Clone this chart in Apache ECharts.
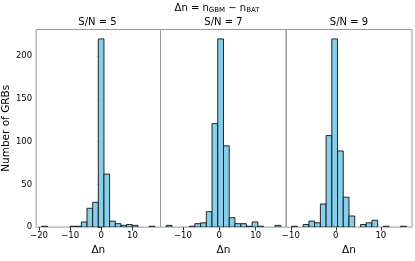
<!DOCTYPE html>
<html><head><meta charset="utf-8">
<script src="https://cdn.jsdelivr.net/npm/echarts@6/dist/echarts.min.js"></script>
<style>html,body{margin:0;padding:0;background:#fff}#c{width:415px;height:261px}</style>
</head><body><div id="c"></div>
<script>
// Histogram bins (start, width) and counts per panel
const panelTitles = ['S/N = 5', 'S/N = 7', 'S/N = 9'];
const binStart1 = -19.1, binWidth1 = 1.815;
const counts1 = [1,0,0,0,0,1,1,6,22,29,220,62,7,4,2,3,2,0,0,1];
const binStart2 = -14.6, binWidth2 = 1.575;
const counts2 = [2,0,0,0,1,4,5,18,121,220,95,11,4,4,1,6,1,0,0,2];
const binStart3 = -9.8, binWidth3 = 1.273;
const counts3 = [1,0,3,7,5,27,107,220,89,35,13,0,3,5,8,0,1,0,0,1];
const xTicks1 = [-20, -10, 0, 10];
const xTicks2 = [-10, 0, 10];
const xTicks3 = [-10, 0, 10];
const yTicks = [0, 50, 100, 150, 200];

const panels = [
  {start: binStart1, width: binWidth1, counts: counts1, ticks: xTicks1},
  {start: binStart2, width: binWidth2, counts: counts2, ticks: xTicks2},
  {start: binStart3, width: binWidth3, counts: counts3, ticks: xTicks3}
];
const yMax = Math.max(...counts1, ...counts2, ...counts3) * 1.05;

const font = 'DejaVu Sans';
const gridLefts = [34.5, 160.5, 286];
const gridW = 126;
const chart = echarts.init(document.getElementById('c'), null, {renderer: 'canvas'});

const grids = [], xAxes = [], yAxes = [], series = [], titles = [];
titles.push({
  text: 'Δn = n{s|GBM} − n{s|BAT}', left: 217, top: 2.5, textAlign: 'center', padding: 0,
  textStyle: {fontFamily: font, fontSize: 10, fontWeight: 'normal', color: '#000',
    rich: {s: {fontFamily: font, fontSize: 7, color: '#000', padding: [4, 0, 0, 0]}}}
});
panels.forEach((p, i) => {
  const n = p.counts.length;
  const lo = p.start, hi = p.start + n * p.width;
  const m = 0.05 * (hi - lo);
  grids.push({left: gridLefts[i], top: 29.5, width: gridW, height: 204.8,
    show: true, borderColor: '#999', borderWidth: 1, backgroundColor: 'transparent'});
  xAxes.push({type: 'value', gridIndex: i, min: lo - m, max: hi + m,
    splitLine: {show: false}, axisLine: {show: false},
    axisTick: {show: true, length: 3.5, lineStyle: {color: '#333'}, customValues: p.ticks},
    axisLabel: {show: true, fontFamily: font, fontSize: 8.5, color: '#000', margin: 4,
      customValues: p.ticks, formatter: v => (v < 0 ? '−' + (-v) : '' + v)},
    name: 'Δn', nameLocation: 'middle', nameGap: 17,
    nameTextStyle: {fontFamily: font, fontSize: 10.5, color: '#000'}});
  yAxes.push({type: 'value', gridIndex: i, min: 0, max: yMax,
    splitLine: {show: false}, axisLine: {show: false},
    axisTick: {show: i === 0, length: 3.5, lineStyle: {color: '#333'}, customValues: yTicks},
    axisLabel: {show: i === 0, fontFamily: font, fontSize: 8.5, color: '#000', margin: 4,
      customValues: yTicks},
    name: i === 0 ? 'Number of GRBs' : '', nameLocation: 'middle', nameGap: 23,
    nameTextStyle: {fontFamily: font, fontSize: 10.5, color: '#000'}});
  const data = [];
  p.counts.forEach((c, k) => {
    if (c > 0) data.push([p.start + k * p.width, p.start + (k + 1) * p.width, c]);
  });
  series.push({type: 'custom', xAxisIndex: i, yAxisIndex: i, data: data,
    encode: {x: [0, 1], y: 2}, clip: true,
    renderItem: (params, api) => {
      const a = api.coord([api.value(0), api.value(2)]);
      const b = api.coord([api.value(1), 0]);
      return {type: 'rect', shape: {x: a[0], y: a[1], width: b[0] - a[0], height: b[1] - a[1]},
        style: {fill: '#87ceeb', stroke: '#111', lineWidth: 0.9}};
    }});
  titles.push({text: panelTitles[i], left: gridLefts[i] + gridW / 2, top: 17.5, textAlign: 'center', padding: 0,
    textStyle: {fontFamily: font, fontSize: 10, fontWeight: 'normal', color: '#000'}});
});

chart.setOption({animation: false, title: titles, grid: grids, xAxis: xAxes, yAxis: yAxes, series: series});
</script></body></html>
